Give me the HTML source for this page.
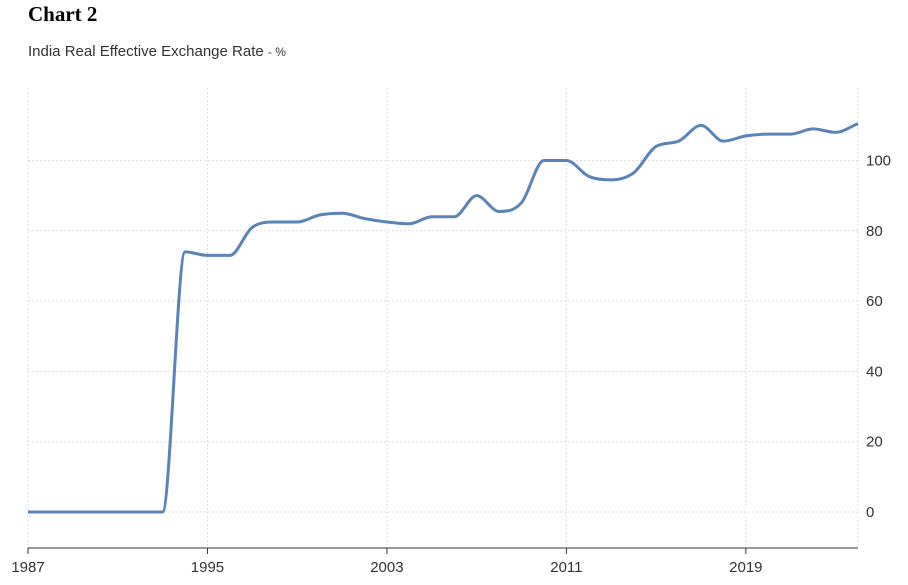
<!DOCTYPE html>
<html><head><meta charset="utf-8"><style>
body{margin:0;background:#fff;width:908px;height:585px;overflow:hidden;font-family:"Liberation Sans",sans-serif}
#t{position:absolute;left:28px;top:2px;font:bold 21px "Liberation Serif",serif;color:#000}
#s{position:absolute;left:28px;top:43px;font-size:15px;color:#333}
#s span{font-size:12px}
svg{position:absolute;left:0;top:0}
</style></head><body>
<div id="t">Chart 2</div>
<div id="s">India Real Effective Exchange Rate <span>- %</span></div>
<svg id="c" width="908" height="585"></svg>
<script>
const years=[1987,1988,1989,1990,1991,1992,1993,1994,1995,1996,1997,1998,1999,2000,2001,2002,2003,2004,2005,2006,2007,2008,2009,2010,2011,2012,2013,2014,2015,2016,2017,2018,2019,2020,2021,2022,2023,2024];
const values=[0,0,0,0,0,0,0,74,73,73,81,82.5,82.5,84.5,85,83.5,82.5,82,84,84,90,85.5,88,100,100,95.5,94.5,96.5,104,105.5,110,105.5,107,107.5,107.5,109,108,110.5];
const yTicks=[0,20,40,60,80,100];
const xTicks=[1987,1995,2003,2011,2019];
const NS="http://www.w3.org/2000/svg",svg=document.getElementById('c');
const x=v=>28+(v-1987)*(830/37), y=v=>512-v*3.515;
function el(t,a){const e=document.createElementNS(NS,t);for(const k in a)e.setAttribute(k,a[k]);svg.appendChild(e);return e;}
// vertical grid
xTicks.forEach(v=>{const g=el('line',{x1:x(v),x2:x(v),y1:88,y2:548,stroke:'#ddd','stroke-dasharray':'2,2'});
});
const gr=el('line',{x1:858,x2:858,y1:88,y2:548,stroke:'#ddd','stroke-dasharray':'2,2'});
yTicks.forEach(v=>{const g=el('line',{x1:28,x2:858,y1:y(v),y2:y(v),stroke:'#ddd','stroke-dasharray':'2,2'});

const t=el('text',{x:866,y:y(v)+5,'font-size':15,fill:'#333'});t.textContent=v;
});
const ax=el('line',{x1:28,x2:858,y1:548,y2:548,stroke:'#333'});

xTicks.forEach(v=>{el('line',{x1:x(v),x2:x(v),y1:548,y2:554,stroke:'#333'});
const t=el('text',{x:x(v),y:572,'font-size':15,fill:'#333','text-anchor':'middle'});t.textContent=v;
});
// monotone cubic path
const P=years.map((yr,i)=>[x(yr),y(values[i])]);const n=P.length;const d=[],m=[];
for(let i=0;i<n-1;i++)d.push((P[i+1][1]-P[i][1])/(P[i+1][0]-P[i][0]));
for(let i=0;i<n;i++){if(i==0)m.push(d[0]);else if(i==n-1)m.push(d[n-2]);else m.push(d[i-1]*d[i]<=0?0:(d[i-1]+d[i])/2);}
for(let i=0;i<n-1;i++){if(d[i]==0){m[i]=0;m[i+1]=0;continue;}const a=m[i]/d[i],b=m[i+1]/d[i],s=a*a+b*b;if(s>9){const t=3/Math.sqrt(s);m[i]=t*a*d[i];m[i+1]=t*b*d[i];}}
let p=`M${P[0][0]},${P[0][1]}`;
for(let i=0;i<n-1;i++){const h=(P[i+1][0]-P[i][0])/3;p+=` C${P[i][0]+h},${P[i][1]+m[i]*h} ${P[i+1][0]-h},${P[i+1][1]-m[i+1]*h} ${P[i+1][0]},${P[i+1][1]}`;}
const line=el('path',{d:p,fill:'none',stroke:'#5a84b8','stroke-width':3});

</script>
</body></html>
